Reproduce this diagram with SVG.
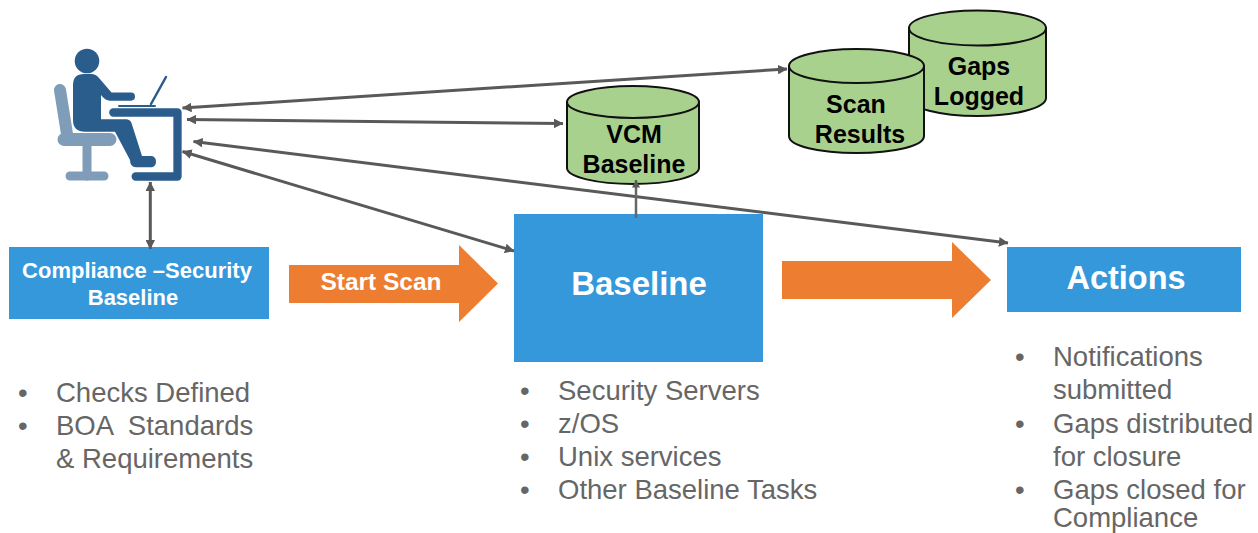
<svg xmlns="http://www.w3.org/2000/svg" width="1258" height="533" viewBox="0 0 1258 533">
<style>
text{font-family:"Liberation Sans",Arial,sans-serif}
.box{fill:#3498db}
.cyl{fill:#a9d18e;stroke:#111;stroke-width:2}
.cl{font-size:25px;font-weight:bold;fill:#000;text-anchor:middle}
.wl{font-weight:bold;fill:#fff;text-anchor:middle}
.li{font-size:27.500px;fill:#666}
.con{stroke:#595959;stroke-width:3;fill:none;marker-start:url(#a);marker-end:url(#a)}
.or{fill:#ed7d31}
.d{fill:none;stroke:#2a5d8c;stroke-linecap:round;stroke-linejoin:round}
.c{fill:none;stroke:#7f9db9;stroke-linecap:round;stroke-linejoin:round}
</style>
<defs>
<marker id="a" viewBox="0 0 10 10" refX="9.500" refY="5" markerWidth="3.200" markerHeight="3.200" orient="auto-start-reverse"><path d="M0 0L10 5L0 10z" fill="#595959"/></marker>
</defs>
<g id="person">
<path class="c" d="M60 90L67 134" stroke-width="12"/>
<path class="c" d="M64 139.500H110" stroke-width="13"/>
<path class="c" d="M87 140V176" stroke-width="9"/>
<path class="c" d="M70 176H104" stroke-width="9"/>
<circle cx="87" cy="61" r="12.300" fill="#2a5d8c"/>
<path d="M73 85Q73 74 84 74H91Q96 74 99 78L111.500 92.500H131Q135 92.500 135 96.500T131 100.700H110Q105 100.700 101 95V119.300H126Q130 119.300 131.500 123L142 156H152Q156 157 156 161.500T152 167.300H136Q130 167 130 160L115 131.700H85Q73 131.700 73 120Z" fill="#2a5d8c"/>
<path class="d" d="M119 106H155" stroke-width="2"/>
<path class="d" d="M151 104L166 77" stroke-width="2.500"/>
<path class="d" d="M113.300 112.500H177.500V176.500H135.700" stroke-width="8.300"/>
</g>
<g id="compliance">
<rect class="box" x="9" y="247" width="260" height="72"/>
<text class="wl" font-size="22" x="137" y="278">Compliance –Security</text>
<text class="wl" font-size="22" x="133" y="305">Baseline</text>
</g>
<g id="baseline">
<rect class="box" x="514" y="214" width="249" height="148"/>
<text class="wl" font-size="33" x="639" y="295">Baseline</text>
</g>
<g id="actions">
<rect class="box" x="1007" y="247" width="234" height="65"/>
<text class="wl" font-size="32.500" x="1126" y="289">Actions</text>
</g>
<g id="gaps">
<path class="cyl" d="M909 28V98C909 108 940 116 977.500 116S1046 108 1046 98V28Z"/>
<ellipse class="cyl" cx="977.500" cy="28" rx="68.500" ry="17.500"/>
<text class="cl" x="979" y="75">Gaps</text>
<text class="cl" x="979" y="105">Logged</text>
</g>
<g id="scan">
<path class="cyl" d="M789 66V136C789 146 819 153 856.500 153S924 146 924 136V66Z"/>
<ellipse class="cyl" cx="856.500" cy="66" rx="67.500" ry="17"/>
<text class="cl" x="856" y="113">Scan</text>
<text class="cl" x="860" y="143">Results</text>
</g>
<g id="vcm">
<path class="cyl" d="M567 102V168C567 177 597 184 633 184S699 177 699 168V102Z"/>
<ellipse class="cyl" cx="633" cy="102" rx="66" ry="16"/>
<text class="cl" x="634" y="143">VCM</text>
<text class="cl" x="634" y="173">Baseline</text>
</g>
<g id="start-scan">
<path class="or" d="M289 265H459V245L498 283.500L459 322V303H289Z"/>
<text class="wl" font-size="24.500" x="381" y="290">Start Scan</text>
</g>
<g id="next-arrow">
<path class="or" d="M782 261H952V242L991 280L952 318V299H782Z"/>
</g>
<g id="connectors">
<path class="con" d="M182.500 108L787 69"/>
<path class="con" d="M187 119.500L563 123.500"/>
<path class="con" d="M193.500 141.500L1008 243"/>
<path class="con" d="M182.500 151.500L514 251"/>
<path class="con" d="M150.300 182V249"/>
<path d="M636 218V180" stroke="#666" stroke-width="2.500" fill="none" marker-end="url(#a)"/>
</g>
<g id="lists">
<g class="li">
<text x="18" y="402">•</text><text x="56" y="402">Checks Defined</text>
<text x="18" y="435">•</text><text x="56" y="435" xml:space="preserve">BOA  Standards</text>
<text x="56" y="468">&amp; Requirements</text>
<text x="520" y="400">•</text><text x="558" y="400">Security Servers</text>
<text x="520" y="433">•</text><text x="558" y="433">z/OS</text>
<text x="520" y="466">•</text><text x="558" y="466">Unix services</text>
<text x="520" y="499">•</text><text x="558" y="499">Other Baseline Tasks</text>
<text x="1015" y="366">•</text><text x="1053" y="366">Notifications</text>
<text x="1053" y="399">submitted</text>
<text x="1015" y="433">•</text><text x="1053" y="433">Gaps distributed</text>
<text x="1053" y="466">for closure</text>
<text x="1015" y="499">•</text><text x="1053" y="499">Gaps closed for</text>
<text x="1053" y="527">Compliance</text>
</g>
</g>
</svg>
